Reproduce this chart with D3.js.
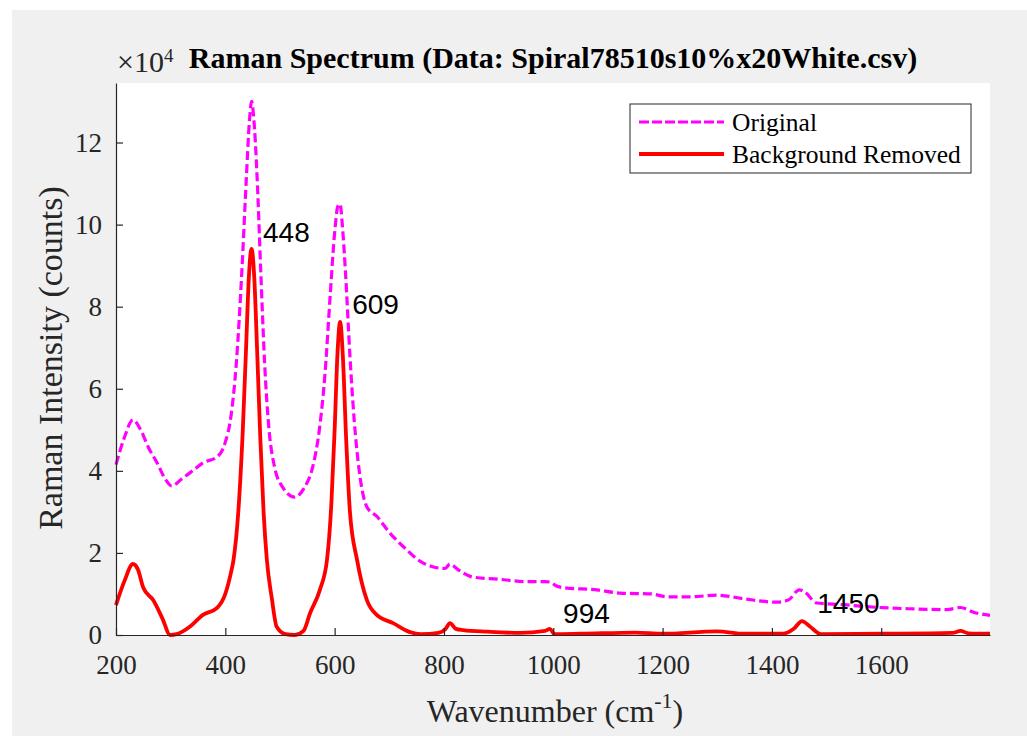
<!DOCTYPE html>
<html>
<head>
<meta charset="utf-8">
<script src="https://cdn.jsdelivr.net/npm/d3@7"></script>
<style>
  body { margin: 0; background: #fff; }
  svg { display: block; }
</style>
</head>
<body>
<div id="main"></div>
<script>
// wavenumbers (cm^-1) and intensities (x10^4 counts)
const origX = [200, 215, 231, 245, 260, 275, 290, 302, 320, 340, 360, 385, 400, 410, 420, 430, 438, 444, 448, 452, 458, 465, 472, 480, 490, 505, 527, 545, 560, 572, 582, 592, 600, 606, 610, 614, 620, 628, 636, 645, 659, 678, 700, 730, 756, 775, 802, 811, 825, 853, 900, 950, 985, 994, 1005, 1020, 1080, 1122, 1180, 1208, 1250, 1300, 1350, 1409, 1430, 1450, 1460, 1482, 1530, 1574, 1650, 1720, 1745, 1770, 1799];
const origY = [4.15, 4.8, 5.24, 5.0, 4.55, 4.2, 3.8, 3.63, 3.8, 4.0, 4.2, 4.34, 4.7, 5.3, 6.6, 8.8, 11.0, 12.5, 13.0, 12.6, 11.2, 8.8, 6.6, 5.0, 4.1, 3.6, 3.36, 3.6, 4.1, 5.0, 6.3, 8.3, 9.8, 10.45, 10.5, 10.0, 8.8, 6.8, 5.2, 4.0, 3.12, 2.88, 2.5, 2.1, 1.8, 1.68, 1.62, 1.73, 1.6, 1.41, 1.36, 1.3, 1.3, 1.29, 1.2, 1.15, 1.1, 1.02, 1.0, 0.93, 0.93, 0.97, 0.88, 0.8, 0.85, 1.1, 1.05, 0.78, 0.74, 0.69, 0.64, 0.62, 0.67, 0.55, 0.48];

const bgX = [200, 215, 231, 240, 250, 268, 285, 299, 311, 335, 359, 385, 400, 410, 415, 424, 432, 438, 443, 448, 453, 458, 464, 470, 476, 485, 494, 510, 527, 543, 555, 573, 586, 594, 600, 605, 610, 615, 621, 628, 641, 659, 677, 707, 738, 757, 790, 803, 811, 822, 835, 880, 939, 985, 994, 1002, 1050, 1150, 1200, 1300, 1350, 1420, 1440, 1455, 1470, 1490, 1600, 1730, 1745, 1760, 1799];
const bgY = [0.73, 1.3, 1.73, 1.6, 1.15, 0.85, 0.4, 0.0, 0.02, 0.2, 0.49, 0.66, 1.0, 1.5, 1.83, 3.05, 5.0, 7.0, 8.7, 9.41, 8.7, 7.0, 4.8, 3.0, 1.83, 0.9, 0.2, 0.02, 0.0, 0.1, 0.53, 1.1, 1.83, 3.2, 5.0, 6.8, 7.63, 6.8, 4.8, 3.0, 1.83, 0.85, 0.49, 0.29, 0.07, 0.02, 0.05, 0.15, 0.29, 0.15, 0.12, 0.08, 0.05, 0.1, 0.15, 0.02, 0.03, 0.06, 0.03, 0.09, 0.03, 0.03, 0.15, 0.34, 0.2, 0.02, 0.03, 0.05, 0.1, 0.04, 0.03];

const peakLabels = ['448', '609', '994', '1450'];
const peakLabelX = [469, 632, 1018, 1483];
const peakLabelY = [9.58, 7.82, 0.29, 0.54];

const xTicks = [200, 400, 600, 800, 1000, 1200, 1400, 1600];
const yTicks = [0, 2, 4, 6, 8, 10, 12];
const seriesNames = ['Original', 'Background Removed'];

const W = 1027, H = 736;
const margin = { left: 116, top: 83, right: 37, bottom: 101 };
const serif = '"Liberation Serif", "Times New Roman", serif';
const sans = '"Liberation Sans", Arial, sans-serif';
const axisColor = '#262626';

var svg = d3.select('#main')
  .append('svg')
  .attr('width', W)
  .attr('height', H);

// grey figure panel
svg.append('rect')
  .attr('x', 12).attr('y', 10)
  .attr('width', W - 12).attr('height', H - 10)
  .attr('fill', '#f0f0f0');

var x = d3.scaleLinear().domain([200, 1799]).range([margin.left, W - margin.right]);
var y = d3.scaleLinear().domain([0, 13.45]).range([H - margin.bottom, margin.top]);

svg.append('rect')
  .attr('x', x.range()[0]).attr('y', y.range()[1])
  .attr('width', x.range()[1] - x.range()[0])
  .attr('height', y.range()[0] - y.range()[1])
  .attr('fill', '#fff');

var line = d3.line()
  .x((d) => x(d[0]))
  .y((d) => y(d[1]))
  .curve(d3.curveMonotoneX);

var plot = svg.append('g');

plot.append('path')
  .datum(origX.map((v, i) => [v, origY[i]]))
  .attr('d', line)
  .attr('fill', 'none')
  .attr('stroke', '#ff00ff')
  .attr('stroke-width', 3.2)
  .attr('stroke-dasharray', '9,4');

plot.append('path')
  .datum(bgX.map((v, i) => [v, bgY[i]]))
  .attr('d', line)
  .attr('fill', 'none')
  .attr('stroke', '#ff0000')
  .attr('stroke-width', 3.8)
  .attr('stroke-linejoin', 'round');

// axes, ticks pointing inward
var xAxis = d3.axisBottom(x).tickValues(xTicks).tickFormat(d3.format('d'))
  .tickSizeInner(-7).tickSizeOuter(0).tickPadding(16);
var yAxis = d3.axisLeft(y).tickValues(yTicks).tickFormat(d3.format('d'))
  .tickSizeInner(-7).tickSizeOuter(0).tickPadding(14);

var gx = svg.append('g')
  .attr('transform', 'translate(0,' + y(0) + ')')
  .call(xAxis);
var gy = svg.append('g')
  .attr('transform', 'translate(' + x(200) + ',0)')
  .call(yAxis);

[gx, gy].forEach(function (g) {
  g.select('.domain').attr('stroke', axisColor).attr('stroke-width', 1.2);
  g.selectAll('.tick line').attr('stroke', axisColor).attr('stroke-width', 1.2);
  g.selectAll('.tick text')
    .attr('fill', axisColor)
    .style('font-family', serif)
    .style('font-size', '27px');
});
gx.selectAll('.tick text').attr('dy', '0.85em');

// peak annotations
svg.append('g')
  .selectAll('text')
  .data(peakLabels)
  .enter()
  .append('text')
  .attr('x', (d, i) => x(peakLabelX[i]))
  .attr('y', (d, i) => y(peakLabelY[i]))
  .style('font-family', sans)
  .style('font-size', '28px')
  .attr('fill', '#000')
  .text((d) => d);

// title and exponent
svg.append('text')
  .attr('x', 553).attr('y', 68)
  .attr('text-anchor', 'middle')
  .style('font-family', serif)
  .style('font-size', '30px')
  .style('font-weight', 'bold')
  .attr('fill', '#000')
  .text('Raman Spectrum (Data: Spiral78510s10%x20White.csv)');

var expo = svg.append('text')
  .attr('x', 117).attr('y', 72)
  .style('font-family', serif)
  .style('font-size', '30px')
  .attr('fill', axisColor);
expo.append('tspan').text('\u00d710');
expo.append('tspan').attr('dy', -10).style('font-size', '19px').text('4');

// axis labels
svg.append('text')
  .attr('transform', 'translate(62,358) rotate(-90)')
  .attr('text-anchor', 'middle')
  .style('font-family', serif)
  .style('font-size', '34px')
  .attr('fill', axisColor)
  .text('Raman Intensity (counts)');

var xl = svg.append('text')
  .attr('x', 555).attr('y', 722)
  .attr('text-anchor', 'middle')
  .style('font-family', serif)
  .style('font-size', '32px')
  .attr('fill', axisColor);
xl.append('tspan').text('Wavenumber (cm');
xl.append('tspan').attr('dy', -14).style('font-size', '22px').text('-1');
xl.append('tspan').attr('dy', 14).text(')');

// legend
var legend = svg.append('g').attr('transform', 'translate(630,104)');
legend.append('rect')
  .attr('width', 341).attr('height', 69)
  .attr('fill', '#fff')
  .attr('stroke', axisColor)
  .attr('stroke-width', 1);

var items = legend.selectAll('.item')
  .data(seriesNames)
  .enter()
  .append('g')
  .attr('transform', (d, i) => 'translate(0,' + (18 + i * 32) + ')');

items.append('line')
  .attr('x1', 9).attr('x2', 94)
  .attr('stroke', (d, i) => i === 0 ? '#ff00ff' : '#ff0000')
  .attr('stroke-width', (d, i) => i === 0 ? 3.2 : 3.8)
  .attr('stroke-dasharray', (d, i) => i === 0 ? '10,3' : null);

items.append('text')
  .attr('x', 102).attr('y', 9)
  .style('font-family', serif)
  .style('font-size', '25.5px')
  .attr('fill', '#000')
  .text((d) => d);
</script>
</body>
</html>
